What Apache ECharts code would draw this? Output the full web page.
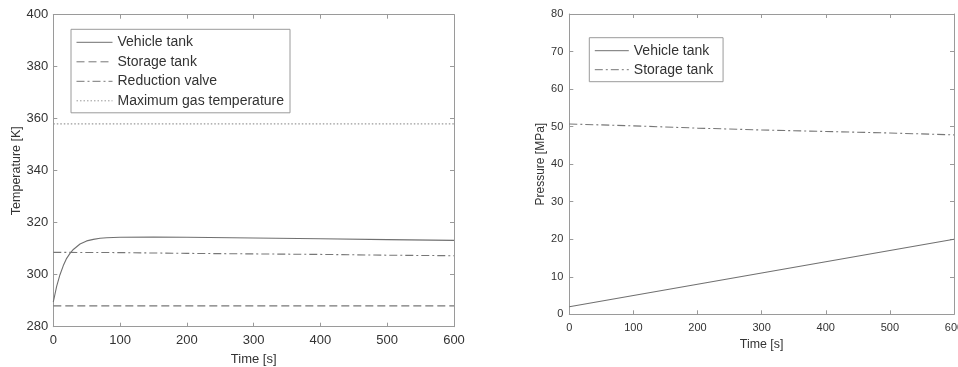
<!DOCTYPE html>
<html>
<head>
<meta charset="utf-8">
<script src="https://cdn.jsdelivr.net/npm/echarts@6/dist/echarts.min.js"></script>
<style>
  html, body { margin: 0; padding: 0; background: #fff; }
  #chart { width: 958px; height: 367px; }
</style>
</head>
<body>
<div id="chart"></div>
<script>
// Temperature panel
var tempVehicleTime = [0, 5, 10, 15, 20, 25, 30, 40, 50, 60, 70, 80, 100, 150, 200, 300, 400, 500, 600];
var tempVehicle     = [289.5, 295.5, 300, 303.5, 306.3, 308.2, 309.7, 311.8, 313.0, 313.6, 314.0, 314.2, 314.4, 314.5, 314.4, 314.1, 313.8, 313.5, 313.2];
var tempTime        = [0, 100, 200, 300, 400, 500, 600];
var tempStorage     = [288, 288, 288, 288, 288, 288, 288];
var tempValve       = [308.6, 308.5, 308.2, 308.0, 307.8, 307.5, 307.3];
var tempMaxGas      = [358, 358, 358, 358, 358, 358, 358];

// Pressure panel
var presTime        = [0, 100, 200, 300, 400, 500, 600];
var presVehicle     = [2.0, 5.0, 8.0, 11.0, 14.0, 17.0, 20.0];
var presStorage     = [50.7, 50.2, 49.6, 49.1, 48.7, 48.3, 47.8];

var tempNames = ['Vehicle tank', 'Storage tank', 'Reduction valve', 'Maximum gas temperature'];
var presNames = ['Vehicle tank', 'Storage tank'];

function pairs(xs, ys) {
  return xs.map(function (x, i) { return [x, ys[i]]; });
}

var FONT = 'Liberation Sans, Arial, sans-serif';
var TEXT = '#333';
var AXIS = '#9a9a9a';
var LINE = '#777';

function axisBase(extra) {
  var a = {
    type: 'value',
    axisLine: { show: true, onZero: false, lineStyle: { color: AXIS, width: 1 } },
    axisTick: { show: true, inside: true, length: 4, lineStyle: { color: AXIS } },
    splitLine: { show: false },
    axisLabel: { color: TEXT, fontFamily: FONT, fontSize: 13 },
    nameTextStyle: { color: TEXT, fontFamily: FONT, fontSize: 13 }
  };
  for (var k in extra) a[k] = extra[k];
  return a;
}

// Unlabelled copy of an axis on the opposite side, closing the box
function mirror(base) {
  var m = JSON.parse(JSON.stringify(base));
  m.axisLabel = { show: false };
  m.name = '';
  return m;
}

var xT = axisBase({ gridIndex: 0, min: 0, max: 600, interval: 100, position: 'bottom',
  name: 'Time [s]', nameLocation: 'middle', nameGap: 26 });
xT.axisLabel.margin = 7;
var yT = axisBase({ gridIndex: 0, min: 280, max: 400, interval: 20, position: 'left',
  name: 'Temperature [K]', nameLocation: 'middle', nameGap: 28 });
yT.axisLabel.margin = 5;
yT.nameTextStyle.fontSize = 12.5;

var xP = axisBase({ gridIndex: 1, min: 0, max: 600, interval: 100, position: 'bottom',
  name: 'Time [s]', nameLocation: 'middle', nameGap: 24 });
xP.axisLabel.fontSize = 11;
xP.axisLabel.margin = 8;
xP.nameTextStyle.fontSize = 12.4;
var yP = axisBase({ gridIndex: 1, min: 0, max: 80, interval: 10, position: 'left',
  name: 'Pressure [MPa]', nameLocation: 'middle', nameGap: 23 });
yP.axisLabel.fontSize = 11;
yP.axisLabel.margin = 6;
yP.nameTextStyle.fontSize = 12;

var xT2 = mirror(xT); xT2.position = 'top';
var yT2 = mirror(yT); yT2.position = 'right';
var xP2 = mirror(xP); xP2.position = 'top';
var yP2 = mirror(yP); yP2.position = 'right';

function lineSeries(name, data, xi, yi, dash, color) {
  return {
    type: 'line', name: name, data: data,
    xAxisIndex: xi, yAxisIndex: yi,
    symbol: 'none', showSymbol: false, silent: true, animation: false,
    smooth: false,
    lineStyle: { color: color || LINE, width: 1.1, type: dash },
    itemStyle: { color: color || LINE }
  };
}

var legendText = { color: TEXT, fontFamily: FONT, fontSize: 14 };

function legendBox(names, left, top, itemWidth, itemGap) {
  return {
    data: names,
    left: left, top: top, orient: 'vertical',
    padding: [6, 6, 5, 5],
    itemWidth: itemWidth, itemHeight: 14, itemGap: itemGap,
    itemStyle: { opacity: 0 },
    lineStyle: { width: 1 },
    borderColor: '#9a9a9a', borderWidth: 1,
    textStyle: legendText,
    selectedMode: false
  };
}

// The pressure series carry a trailing space so each panel keeps its own legend
var presLegendNames = presNames.map(function (n) { return n + ' '; });

var option = {
  backgroundColor: '#fff',
  animation: false,
  grid: [
    { left: 53.3, top: 14.7, width: 400.7, height: 312, outerBoundsMode: 'none', containLabel: false },
    { left: 569.3, top: 14, width: 384.7, height: 300.3, outerBoundsMode: 'none', containLabel: false }
  ],
  xAxis: [xT, xP, xT2, xP2],
  yAxis: [yT, yP, yT2, yP2],
  legend: [
    legendBox(tempNames, 71, 29.3, 36, 5.5),
    legendBox(presLegendNames, 589.3, 37.7, 34, 5)
  ],
  series: [
    lineSeries(tempNames[0], pairs(tempVehicleTime, tempVehicle), 0, 0, 'solid', '#707070'),
    lineSeries(tempNames[1], pairs(tempTime, tempStorage), 0, 0, [8, 4]),
    lineSeries(tempNames[2], pairs(tempTime, tempValve), 0, 0, [8, 3, 2, 3]),
    lineSeries(tempNames[3], pairs(tempTime, tempMaxGas), 0, 0, [1.5, 2], '#999'),
    lineSeries(presLegendNames[0], pairs(presTime, presVehicle), 1, 1, 'solid', '#707070'),
    lineSeries(presLegendNames[1], pairs(presTime, presStorage), 1, 1, [8, 3, 2, 3])
  ]
};

var chart = echarts.init(document.getElementById('chart'), null, { renderer: 'canvas' });
chart.setOption(option);
</script>
</body>
</html>
